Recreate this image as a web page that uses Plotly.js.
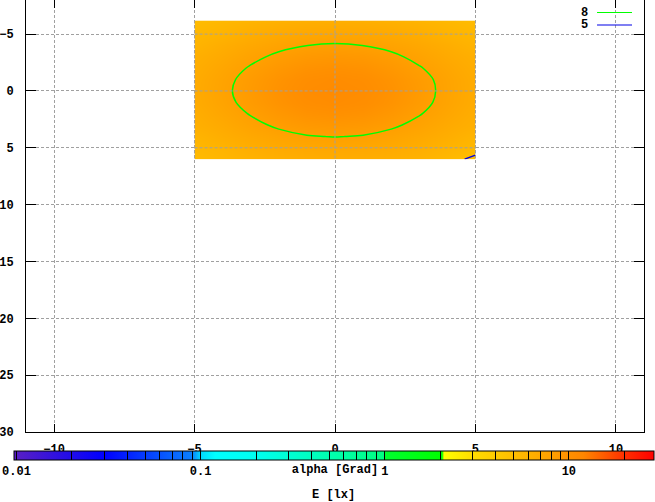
<!DOCTYPE html>
<html>
<head>
<meta charset="utf-8">
<script src="https://cdn.plot.ly/plotly-3.0.1.min.js"></script>
<style>html,body{margin:0;padding:0;background:#fff;}#chart{width:655px;height:502px;}</style>
</head>
<body>
<div id="chart"></div>
<script>
// ---- data ----
const xs = [-5, -4, -3, -2, -1, 0, 1, 2, 3, 4, 5];
const ys = [-6.2, -5, -4, -3, -2, -1, 0, 1, 2, 3, 4, 5, 6];
// illuminance E [lx] on the grid (rows follow ys, columns follow xs)
const E = [
  [5.15, 5.50, 5.83, 6.11, 6.30, 6.36, 6.30, 6.11, 5.83, 5.50, 5.15],
  [5.58, 5.92, 6.48, 6.90, 7.15, 7.25, 7.15, 6.90, 6.48, 5.92, 5.56],
  [5.85, 6.48, 7.07, 7.61, 7.99, 8.15, 7.99, 7.61, 7.07, 6.48, 5.85],
  [6.28, 6.87, 7.63, 8.32, 8.85, 9.05, 8.85, 8.32, 7.61, 6.85, 6.27],
  [6.49, 7.28, 8.15, 9.02, 9.72, 9.99, 9.72, 9.00, 8.12, 7.25, 6.47],
  [6.67, 7.55, 8.53, 9.54, 10.39, 10.73, 10.39, 9.52, 8.50, 7.50, 6.64],
  [6.73, 7.65, 8.66, 9.74, 10.65, 11.00, 10.63, 9.72, 8.63, 7.55, 6.68],
  [6.66, 7.53, 8.51, 9.52, 10.37, 10.70, 10.36, 9.51, 8.48, 7.48, 6.62],
  [6.46, 7.24, 8.10, 8.98, 9.68, 9.95, 9.68, 8.98, 8.10, 7.22, 6.44],
  [6.25, 6.83, 7.58, 8.27, 8.80, 9.00, 8.80, 8.27, 7.58, 6.82, 6.24],
  [5.80, 6.42, 7.00, 7.52, 7.90, 8.05, 7.90, 7.52, 7.00, 6.42, 5.78],
  [5.55, 5.88, 6.44, 6.86, 7.10, 7.20, 7.10, 6.86, 6.44, 5.88, 5.45],
  [5.21, 5.58, 5.93, 6.22, 6.43, 6.50, 6.43, 6.22, 5.93, 5.40, 4.75]
];
const contourLevels = [8, 5];
const contourNames = ['8', '5'];
const contourColors = ['#00ff00', '#0000e6'];

// colour bar (log scale)
const cbMin = 0.0097, cbMax = 29;
const cbTickValues = [0.01, 0.02, 0.03, 0.04, 0.05, 0.06, 0.07, 0.08, 0.09,
  0.1, 0.2, 0.3, 0.4, 0.5, 0.6, 0.7, 0.8, 0.9,
  1, 2, 3, 4, 5, 6, 7, 8, 9, 10, 20];
const cbMajor = {0.01: '0.01', 0.1: '0.1', 1: '1', 10: '10'};
const paletteValues = [0.0097, 0.03, 0.09, 0.1, 0.12, 0.2, 0.5, 0.99, 1.0, 2.05, 2.1, 3, 5, 8, 10, 12, 20, 29];
const paletteColors = ['#5a1fc4', '#0000ff', '#0a80ff', '#00d8ff', '#00ffff', '#00fff0', '#00ffb0', '#00ff80',
  '#00ff30', '#00ff00', '#ffff00', '#ffdc00', '#ffbe00', '#ffa000', '#ff9000', '#ff8600', '#ff3000', '#ff0000'];

// x / y ticks
const xTicks = [-10, -5, 0, 5, 10];
const yTicks = [-5, 0, 5, 10, 15, 20, 25, 30];

// ---- build ----
const lg = v => Math.log10(v);
const zLog = E.map(r => r.map(lg));
const lo = lg(cbMin), hi = lg(cbMax);
const colorscale = paletteValues.map((v, i) => [(lg(v) - lo) / (hi - lo), paletteColors[i]]);

const font = {family: 'Liberation Mono, DejaVu Sans Mono, monospace', size: 12, color: '#000', weight: 'bold'};

const traces = [{
  type: 'contour',
  x: xs, y: ys, z: zLog,
  zmin: lo, zmax: hi,
  colorscale: colorscale,
  contours: {coloring: 'heatmap', showlines: false},
  line: {width: 0},
  showlegend: false,
  hoverinfo: 'skip',
  colorbar: {
    orientation: 'h',
    x: 0.4984, xanchor: 'center',
    y: -0.0451, yanchor: 'top',
    lenmode: 'pixels', len: 640,
    thickness: 9,
    xpad: 0, ypad: 0,
    outlinewidth: 1, outlinecolor: '#000',
    borderwidth: 0,
    tickmode: 'array',
    tickvals: cbTickValues.map(lg),
    ticktext: cbTickValues.map(v => cbMajor[v] || ''),
    ticks: 'inside', ticklen: 9, tickcolor: '#000', tickwidth: 1,
    tickfont: font
  }
}];
contourLevels.forEach((lev, i) => {
  traces.push({
    type: 'contour',
    x: xs, y: ys, z: E,
    autocontour: false,
    contours: {start: lev, end: lev, size: 1, coloring: 'none'},
    line: {color: contourColors[i], width: 1.5, smoothing: 1},
    showscale: false,
    showlegend: false,
    name: contourNames[i],
    hoverinfo: 'skip'
  });
});

// legend drawn gnuplot-style (label left of the line sample)
const annotations = [], shapes = [];
contourNames.forEach((n, i) => {
  const yPix = [12.5, 25][i];
  const yp = 1 - yPix / 432;
  annotations.push({xref: 'paper', yref: 'paper', x: 0.9110, y: yp, xanchor: 'right', yanchor: 'middle',
    text: n, showarrow: false, font: font, borderpad: 0});
  shapes.push({type: 'line', xref: 'paper', yref: 'paper', x0: 0.924, x1: 0.9806, y0: yp, y1: yp,
    line: {color: contourColors[i], width: 1.2}});
});
// colour-bar label (E [lx]) below the colour bar
annotations.push({xref: 'paper', yref: 'paper', x: (333 - 26) / 618, y: (432 - 495) / 432,
  xanchor: 'center', yanchor: 'middle', text: 'E [lx]', showarrow: false, font: font, borderpad: 0});

// grid lines drawn over the map (gnuplot draws grid in front)
const gridLine = {color: '#a0a0a0', width: 1, dash: '3px,2px'};
[-5, 0, 5].forEach(v => {
  shapes.push({type: 'line', xref: 'x', yref: 'y', x0: v, x1: v, y0: ys[0], y1: ys[ys.length - 1], line: gridLine, layer: 'above'});
  shapes.push({type: 'line', xref: 'x', yref: 'y', x0: xs[0], x1: xs[xs.length - 1], y0: v, y1: v, line: gridLine, layer: 'above'});
});

const axisCommon = {
  showline: true, linecolor: '#000', linewidth: 1, mirror: 'allticks',
  ticks: 'inside', tickcolor: '#000', tickwidth: 1,
  showgrid: true, gridcolor: '#a0a0a0', gridwidth: 1, griddash: '3px,2px',
  zeroline: false, tickfont: font, tickmode: 'array'
};

const layout = {
  width: 655, height: 502,
  margin: {l: 26, r: 11, t: 0, b: 70, autoexpand: false},
  paper_bgcolor: '#fff', plot_bgcolor: '#fff',
  font: font,
  showlegend: false,
  xaxis: Object.assign({}, axisCommon, {
    range: [-11, 11], tickvals: xTicks, ticklen: 8, ticklabelstandoff: 6,
    title: {text: 'alpha [Grad]', font: font, standoff: 8}
  }),
  yaxis: Object.assign({}, axisCommon, {
    range: [30, -8], tickvals: yTicks, ticklen: 10, ticklabelstandoff: 9
  }),
  annotations: annotations,
  shapes: shapes
};

Plotly.newPlot('chart', traces, layout, {displayModeBar: false, staticPlot: true});
</script>
</body>
</html>
